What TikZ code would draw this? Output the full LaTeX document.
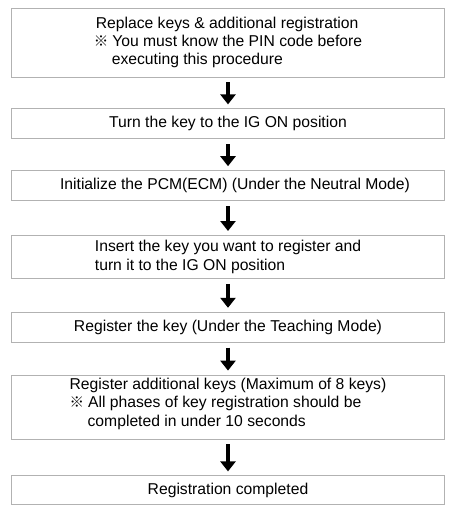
\documentclass[tikz,border=0pt]{standalone}
\usepackage{fontspec}
\setmainfont{Liberation Sans}
\newfontfamily\cjk{Noto Sans CJK JP}
\usetikzlibrary{positioning}
\usetikzlibrary{arrows.meta}
\newcommand{\refmark}{\makebox[18.5pt][l]{\cjk\fontsize{14.5}{14.5}\selectfont ※}}

\begin{document}
\begin{tikzpicture}[x=1pt, y=1pt, node distance=32pt, font={\fontsize{15.7}{18.4}\selectfont}]
\tikzstyle{stage}=[draw=black!30, line width=0.8pt, rectangle, minimum width=433pt, inner sep=0pt, align=left]
\tikzstyle{flow}=[-{Triangle[width=15pt,length=10pt]}, line width=4pt, draw=black, shorten <=5pt, shorten >=4pt]

\useasboundingbox (0,0) rectangle (453,-511);

\node[stage, minimum height=69pt] (replace) at (228,-42.5) {\hspace*{2pt}Replace keys \& additional registration\\ \refmark You must know the PIN code before\hspace*{8pt}\\ \hspace*{18pt}executing this procedure};
\node[stage, minimum height=30pt, below=31pt of replace] (turn) {Turn the key to the IG ON position};
\node[stage, minimum height=30pt, below=31pt of turn] (init) {\hspace*{14pt}Initialize the PCM(ECM) (Under the Neutral Mode)};
\node[stage, minimum height=43pt, below=34pt of init] (insert) {Insert the key you want to register and\\ turn it to the IG ON position};
\node[stage, minimum height=30pt, below=33pt of insert] (teach) {Register the key (Under the Teaching Mode)};
\node[stage, minimum height=64pt, text depth=10pt, below=32pt of teach] (extra) {Register additional keys (Maximum of 8 keys)\\ \refmark All phases of key registration should be\\ \hspace*{18pt}completed in under 10 seconds};
\node[stage, minimum height=29pt, below=36pt of extra] (done) {Registration completed};

% arrows between the steps
\path (replace) edge[flow] (turn);
\path (turn) edge[flow] (init);
\path (init) edge[flow] (insert);
\path (insert) edge[flow] (teach);
\path (teach) edge[flow] (extra);
\path (extra) edge[flow] (done);
\end{tikzpicture}
\end{document}
